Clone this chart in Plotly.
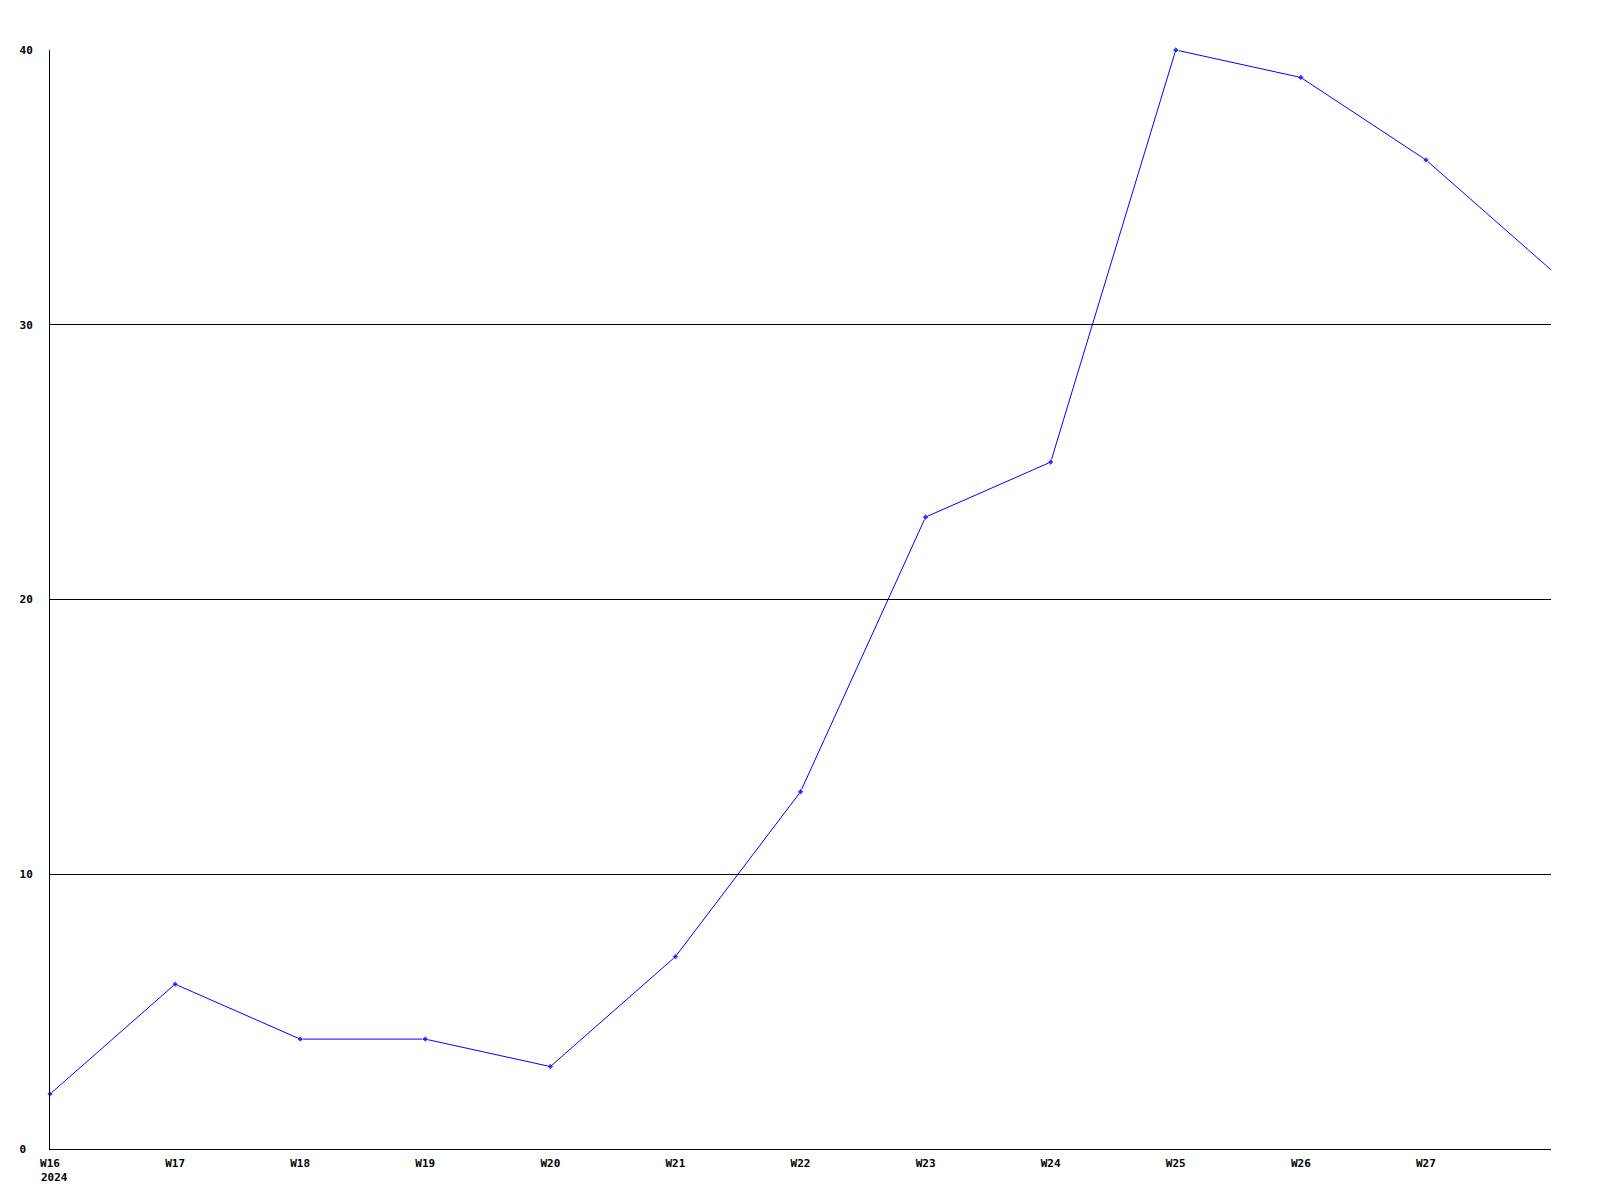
import plotly.graph_objects as go

weeks = [16, 17, 18, 19, 20, 21, 22, 23, 24, 25, 26, 27, 28]
values = [2, 6, 4, 4, 3, 7, 13, 23, 25, 40, 39, 36, 32]
tick_weeks = [16, 17, 18, 19, 20, 21, 22, 23, 24, 25, 26, 27]
tick_labels = ["W16", "W17", "W18", "W19", "W20", "W21", "W22", "W23", "W24", "W25", "W26", "W27"]
year_label = "2024"
y_ticks = [0, 10, 20, 30, 40]
y_tick_labels = ["0\u00a0", "10", "20", "30", "40"]

FONT = dict(family="DejaVu Sans Mono", size=11, color="#000000")

marker_sizes = [5] * (len(weeks) - 1) + [0]

fig = go.Figure()
fig.add_trace(go.Scatter(
    x=weeks, y=values, mode="lines+markers",
    line=dict(color="#0000ff", width=1),
    marker=dict(color="#0000ff", size=marker_sizes, symbol="diamond"),
    cliponaxis=False, showlegend=False, hoverinfo="x+y",
))

fig.add_annotation(
    x=weeks[0], y=0, xref="x", yref="y", text="<b>" + year_label + "</b>",
    showarrow=False, xanchor="left", yanchor="top", xshift=-11, yshift=-20,
    font=FONT,
)

fig.update_layout(
    width=1600, height=1200,
    margin=dict(l=42, r=57, t=42, b=59),
    paper_bgcolor="#ffffff", plot_bgcolor="#ffffff",
    font=FONT,
    xaxis=dict(
        range=[weeks[0], weeks[-1]], tickvals=tick_weeks,
        ticktext=["<b>" + t + "</b>" for t in tick_labels],
        showgrid=False, zeroline=False, showline=True, linecolor="#000000", linewidth=1,
        ticks="", ticklabelstandoff=4, fixedrange=True, automargin=False,
    ),
    yaxis=dict(
        range=[0, 40], tickvals=y_ticks,
        ticktext=["<b>" + t + "</b>" for t in y_tick_labels],
        showgrid=True, gridcolor="#000000", gridwidth=1, zeroline=False,
        showline=True, linecolor="#000000", linewidth=1,
        ticks="", ticklabelstandoff=14, fixedrange=True, automargin=False,
    ),
)

fig.write_html("out.html")
